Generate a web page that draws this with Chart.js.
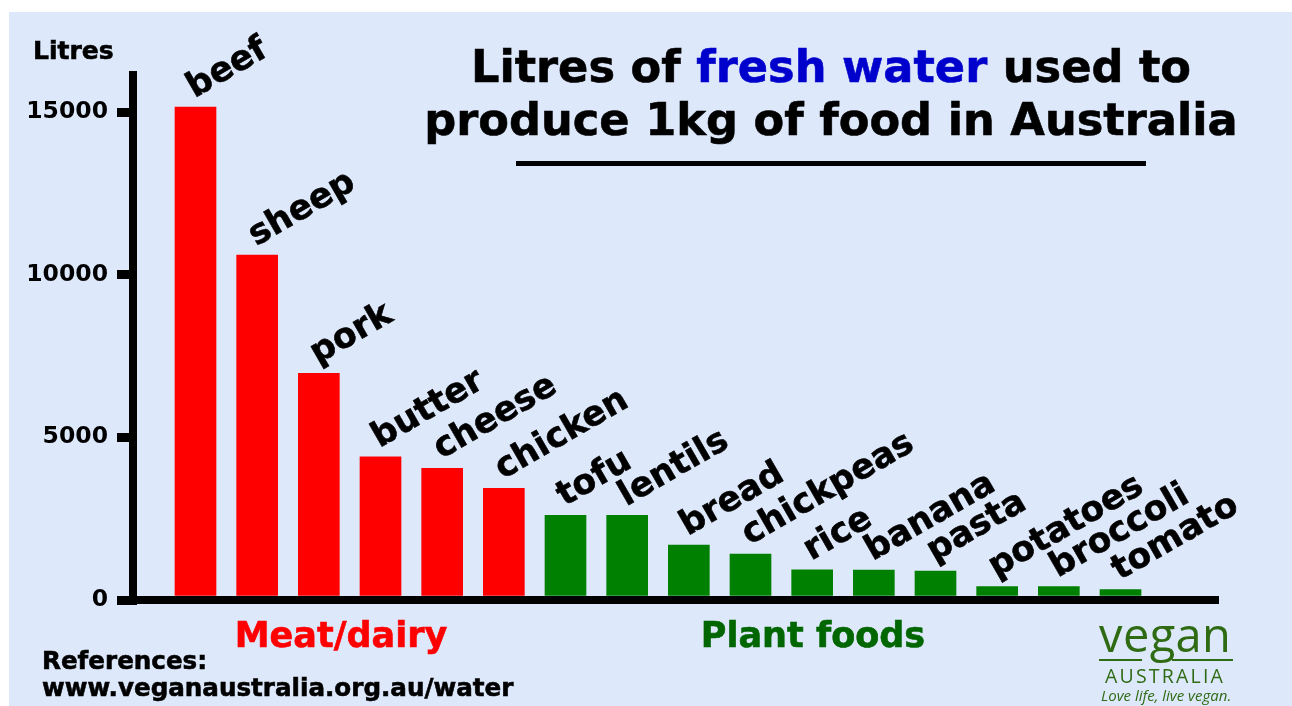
<!DOCTYPE html>
<html><head><meta charset="utf-8">
<script src="https://cdn.jsdelivr.net/npm/chart.js@4.4.1/dist/chart.umd.min.js"></script>
<style>
html,body{margin:0;padding:0;background:#fff;width:1292px;height:706px;overflow:hidden;}
#panel{position:absolute;left:9px;top:12px;width:1283px;height:694px;background:#dee8fb;}
#wrap{position:absolute;left:0;top:0;width:1292px;height:706px;}
.t{position:absolute;font-family:"DejaVu Sans",sans-serif;font-weight:bold;line-height:1;white-space:nowrap;color:#000;-webkit-text-stroke:0.6px currentColor;}
.lg{position:absolute;font-family:"Open Sans",sans-serif;line-height:1;white-space:nowrap;color:#2e6b13;}
.bar{position:absolute;height:2px;background:#2e6b13;}
</style></head><body>
<div id="panel"></div>
<div id="wrap"><canvas id="c" width="1292" height="706"></canvas></div>
<div class="t" style="left:331px;width:1000px;text-align:center;top:45px;font-size:44.7px">Litres of <span style="color:#0000cc">fresh water</span> used to</div>
<div class="t" style="left:331px;width:1000px;text-align:center;top:98px;font-size:44.7px">produce 1kg of food in Australia</div>
<div style="position:absolute;left:516px;top:160.5px;width:630px;height:5px;background:#000"></div>
<div class="t" style="left:33px;top:37.8px;font-size:25px">Litres</div>
<div class="t" style="left:141px;width:400px;text-align:center;top:618.4px;font-size:35px;color:#ff0000">Meat/dairy</div>
<div class="t" style="left:613px;width:400px;text-align:center;top:618.4px;font-size:35px;color:#006600">Plant foods</div>
<div class="t" style="left:42px;top:649.3px;font-size:24.6px">References:</div>
<div class="t" style="left:42px;top:676.2px;font-size:24.6px">www.veganaustralia.org.au/water</div>
<div class="lg" style="left:1099px;top:611px;font-size:47px;font-weight:500;letter-spacing:0.4px">vegan</div>
<div class="bar" style="left:1099px;top:659px;width:43px"></div>
<div class="bar" style="left:1172px;top:659px;width:61px"></div>
<div class="lg" style="left:1105px;top:666px;font-size:19.5px;letter-spacing:2.2px">AUSTRALIA</div>
<div class="lg" style="left:1101px;top:688px;font-size:15px;font-style:italic">Love life, live vegan.</div>
<script>
const categories = ['beef','sheep','pork','butter','cheese','chicken','tofu','lentils','bread','chickpeas','rice','banana','pasta','potatoes','broccoli','tomato'];
const litres = [15150,10600,6970,4400,4050,3430,2600,2600,1690,1410,930,920,890,410,410,320];
const groupOf = ['meat','meat','meat','meat','meat','meat','plant','plant','plant','plant','plant','plant','plant','plant','plant','plant'];
const yTickValues = [0,5000,10000,15000];
const groupColors = {meat:'#ff0000', plant:'#008000'};

const labelPlugin = {
  id:'catLabels',
  afterDatasetsDraw(chart){
    const ctx = chart.ctx;
    const meta = chart.getDatasetMeta(0);
    ctx.save();
    ctx.font = 'bold 34.5px "DejaVu Sans"';
    ctx.fillStyle = '#000';
    ctx.strokeStyle = '#000';
    ctx.lineWidth = 0.6;
    ctx.textBaseline = 'alphabetic';
    ctx.textAlign = 'left';
    meta.data.forEach((bar,i)=>{
      ctx.save();
      ctx.translate(bar.x - 1, bar.y - 9);
      ctx.rotate(-30*Math.PI/180);
      ctx.fillText(categories[i],0,0);
      ctx.strokeText(categories[i],0,0);
      ctx.restore();
    });
    ctx.restore();
  }
};

new Chart(document.getElementById('c'), {
  type:'bar',
  data:{ datasets:[{
    data: litres.map((v,i)=>({x:i,y:v})),
    backgroundColor: groupOf.map(g=>groupColors[g]),
    barThickness:41, borderWidth:0
  }]},
  options:{
    responsive:false, animation:false,
    layout:{padding:{left:0,right:74,top:75,bottom:0}},
    plugins:{legend:{display:false}, tooltip:{enabled:false}},
    scales:{
      x:{type:'linear', offset:false, min:-1.0135, max:16.581,
         ticks:{display:false}, grid:{display:false},
         border:{display:true,color:'#000',width:8,z:1},
         afterFit(s){s.height=106;}},
      y:{min:0, max:16140,
         afterBuildTicks(s){s.ticks = yTickValues.map(v=>({value:v}));},
         ticks:{callback:v=>String(v), color:'#000', font:{family:'DejaVu Sans',weight:'bold',size:23.5}, padding:9},
         grid:{drawOnChartArea:false, drawTicks:true, tickLength:16, lineWidth:9, color:'#000', z:1},
         border:{display:true,color:'#000',width:8,z:1},
         afterFit(s){s.width=133;}}
    }
  },
  plugins:[labelPlugin]
});
</script>
</body></html>
